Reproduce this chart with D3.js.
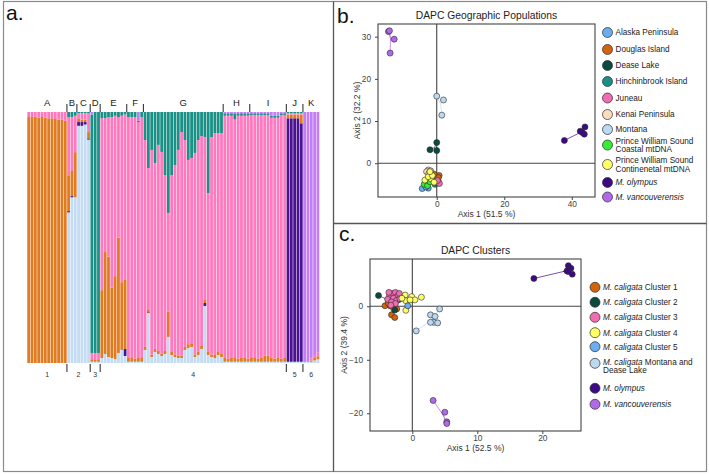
<!DOCTYPE html>
<html lang="en">
<head>
<meta charset="UTF-8">
<title>Ancestry and DAPC</title>
<script src="https://d3js.org/d3.v7.min.js"></script>
<style>
  body { margin: 0; background: #fff; }
  svg { font-family: "Liberation Sans", Arial, sans-serif; }
</style>
</head>
<body>
<svg id="fig" width="709" height="474"></svg>
<script>
// ---------- panel a: ancestry bar plot ----------
const groups = ["A", "B", "C", "D", "E", "F", "G", "H", "I", "J", "K"];
const groupSizes = [12, 3, 4, 3, 8, 5, 24, 8, 11, 5, 5];
const clusterLabels = ["1", "2", "3", "4", "5", "6"];
const clusterSizes = [12, 7, 3, 56, 5, 5];

// ancestry (%) of each individual, plot order A..K
const qLightBlue = [
  0,0,0,0,0,0,0,0,0,0,0,0,
  60,66,66,
  94.5,94.5,95,89,
  0.5,0.5,0.5,
  2,3.6,2.4,2,1.6,4,5.2,2.8,
  0.5,0.5,0.5,0.5,0.5,
  5.2,19.9,2.4,4.4,3.6,2.8,3.6,10.4,3.2,2.4,2,2,5.2,6,6.4,2.4,3.2,5.6,22.7,3.2,2.4,2,3.2,2.4,
  0.5,0.5,0.5,0.5,0.5,0.5,0.5,0.5,
  0.5,0.5,0.5,0.5,0.5,0.5,0.5,0.5,0.5,0.5,0.5,
  0.5,0.5,0.5,0.5,0.5,
  0.4,0.4,0.5,1,1.5
];
const qDarkPurple = [
  0,0,0,0,0,0,0,0,0,0,0,0,
  0.5,0.5,0,
  1.5,1.5,1,0.5,
  0,0,0,
  0,0,0,0,0,0,0,2.8,
  0,0,0,0,0,
  0,0.3,0,0,0,0,0,0,0,0,0,0,0,0,0,0,0,0,1.2,0,0,0,0,0,
  0,0,0,0,0,0,0,0,
  0,0,0,0,0,0,0,0,0,0,0,
  97,97,97,97,95,
  0,0,0,0,0
];
const qOrange = [
  98,98,98.2,97.8,98,97.8,97.5,97.5,97.2,97,97,96.5,
  14,10,18,
  1.5,1,1,2.5,
  1,1,1,
  27,40.6,40,28,33,46,27,27.5,
  1.5,1.5,1.2,1.5,1.8,
  1.2,1.2,1,1.2,1.2,1,1.2,10,1.2,1,1,1,1.2,1.5,1.5,1,1.2,1.2,1.5,1.2,1,1.2,1.2,1.2,
  1.5,1.2,1.5,1.8,1.2,1.5,1.5,1.2,
  1.5,1.8,1.2,1.5,2.5,2.5,1.5,1.2,1.5,1.2,1.5,
  1.5,1.5,1.5,1.5,3.5,
  0,0,0.5,1,1.2
];
const qPink = [
  2,2,1.8,2.2,2,2.2,2.5,2.5,2.8,3,3,3.5,
  23.5,21.5,14.5,
  2,2.5,2.5,7.5,
  2.5,2.5,2.5,
  68.5,53.3,55.6,68,63.9,48,66.3,65.9,
  96,96,96.3,94,95.7,
  82.4,56.3,81.5,74.1,82.1,80.3,70.1,39.4,70.5,75.5,81.9,89,82.4,73.4,73.8,80.3,84.4,83.6,64.6,63.3,86.6,88.4,87.2,88,
  96.5,96.8,96.5,94.7,96.8,96.5,96.5,96.8,
  96.7,96.4,97,96.7,95.7,95.7,95.7,96,95.7,97,96.7,
  0.5,0.5,0.5,0.5,0.5,
  0.4,0.4,0.8,1.2,1.6
];
const qTeal = [
  0,0,0,0,0,0,0,0,0,0,0,0,
  2,2,1.5,
  0.5,0.5,0.5,0.5,
  95,96,96,
  2.5,2.5,2,2,1.5,2,1.5,1,
  2,2,2,0.5,2,
  11.2,22.3,15.1,20.3,13.1,15.9,25.1,40.2,25.1,21.1,15.1,8,11.2,19.1,18.3,16.3,11.2,9.6,10,32.3,10,8.4,8.4,8.4,
  1,1,1,2.5,1,1,1,1,
  0.8,0.8,0.8,0.8,0.8,0.8,0.8,0.8,0.8,0.8,0.8,
  0.5,0.5,0.5,0.5,0.5,
  0,0,0,0,0
];
const qLightPurple = [
  0,0,0,0,0,0,0,0,0,0,0,0,
  0,0,0,
  0,0,0,0,
  1,0,0,
  0,0,0,0,0,0,0,0,
  0,0,0,3.5,0,
  0,0,0,0,0,0,0,0,0,0,0,0,0,0,0,0,0,0,0,0,0,0,0,0,
  0.5,0.5,0.5,0.5,0.5,0.5,0.5,0.5,
  0.5,0.5,0.5,0.5,0.5,0.5,1.5,1.5,1.5,0.5,0.5,
  0,0,0,0,0,
  99.2,99.2,98.2,96.8,95.7
];

// ---------- panel b: DAPC geographic populations ----------
const alaskaPeninsula = [[-4.3, -6.0], [-2.5, -5.9], [-3.2, -5.6]];
const douglasIsland = [[0.7, -2.9], [0.5, -3.4], [-0.8, -2.6]];
const deaseLake = [[0, 4.9], [-2, 3.2], [0, 3.0]];
const hinchinbrookIsland = [[-0.5, -5.0], [-1.2, -4.2], [0.2, -4.6]];
const juneau = [[0.5, -4.4], [0.8, -4.8], [0.2, -4.1]];
const kenaiPeninsula = [[-2.5, -1.6], [-3.0, -2.0], [-1.8, -1.8]];
const montana = [[0, 15.9], [2.0, 15.0], [1.5, 11.4]];
const pwsCoastal = [[-3.7, -5.0], [-2.7, -5.3], [-2.0, -4.4]];
const pwsContinental = [[-2.3, -2.4], [-1.7, -3.7], [-0.8, -4.5], [-3.5, -4.0], [-2.5, -3.2], [-1.3, -2.9], [-2.0, -2.0]];
const olympusB = [[37.8, 5.4], [42.5, 7.6], [43.1, 7.3], [43.9, 8.6], [43.7, 6.9]];
const vancouverensisB = [[-14.3, 31.2], [-14.0, 31.4], [-12.6, 29.4], [-13.8, 26.1]];

// ---------- panel c: DAPC clusters ----------
const cluster1 = [[-4.2, 0.1], [-3.4, 0.1], [-3.7, 0.6], [-3.2, -1.6], [-2.7, -2.1], [-2.4, -0.5]];
const cluster2 = [[-5.2, 2.0], [-2.15, 1.2], [-2.7, -0.7], [-3.4, 1.6]];
const cluster3 = [[-3.5, 2.0], [-3.0, 2.4], [-2.6, 2.6], [-2.2, 2.0], [-3.8, 1.3], [-2.9, 1.5], [-2.4, 1.1],
                  [-3.2, 0.8], [-2.0, 2.4], [-3.6, 2.6], [-2.6, 0.5], [-1.9, 1.4], [-3.3, 0.2]];
const cluster4 = [[-1.1, 2.1], [-0.1, 1.8], [0.4, 1.2], [1.4, 1.7], [-1.0, -0.75], [-1.0, 1.05], [-1.6, 1.5], [-0.35, 1.2]];
const cluster5 = [[-0.7, 0.1]];
const montanaDease = [[0.6, -4.6], [2.8, -1.6], [3.5, -1.9], [3.3, -3.0], [2.8, -3.0], [4.2, -0.5], [3.9, -3.1]];
const olympusC = [[18.7, 5.2], [24.0, 7.6], [24.4, 7.1], [24.6, 6.0], [23.8, 6.6], [24.0, 6.5]];
const vancouverensisC = [[3.2, -17.6], [5.0, -19.8], [5.3, -21.6], [5.3, -21.9]];

const svg = d3.select("#fig");

// frame and dividers
svg.append("rect").attr("x", 3.5).attr("y", 1.5).attr("width", 703).attr("height", 470)
  .attr("fill", "none").attr("stroke", "#8a8a8a").attr("stroke-width", 1.2);
svg.append("line").attr("x1", 333.5).attr("x2", 333.5).attr("y1", 1.5).attr("y2", 471.5)
  .attr("stroke", "#555").attr("stroke-width", 1.3);
svg.append("line").attr("x1", 333.5).attr("x2", 706.5).attr("y1", 223.5).attr("y2", 223.5)
  .attr("stroke", "#555").attr("stroke-width", 1.3);

// panel letters
[["a.", 6, 20], ["b.", 337, 23], ["c.", 339, 241]].forEach(([t, x, y]) => {
  svg.append("text").attr("x", x).attr("y", y).attr("font-size", 21).attr("fill", "#111").text(t);
});

// ---------- draw panel a ----------
const keys = ["lb", "dp", "or", "pk", "tl", "lp"];
const ancestryColors = ["#c3dcf4", "#4a1190", "#e07b21", "#ff79bf", "#1b9086", "#c17ef5"];
const rows = qLightBlue.map((v, i) => ({
  lb: v, dp: qDarkPurple[i], or: qOrange[i], pk: qPink[i], tl: qTeal[i], lp: qLightPurple[i]
}));
const series = d3.stack().keys(keys).offset(d3.stackOffsetExpand)(rows);

const xA = d3.scaleBand().domain(d3.range(rows.length)).range([27.3, 319.3]).paddingInner(0.16);
const yA = d3.scaleLinear().domain([0, 1]).range([363, 112]);
const gap = xA.step() * xA.paddingInner() / 2;
const edge = i => i === 0 ? xA.range()[0] : (i === rows.length ? xA.range()[1] : xA(i) - gap);

const barG = svg.append("g");
series.forEach((s, k) => {
  barG.selectAll(null).data(s).enter().append("rect")
    .attr("x", (d, i) => xA(i))
    .attr("width", xA.bandwidth())
    .attr("y", d => yA(d[1]))
    .attr("height", d => yA(d[0]) - yA(d[1]))
    .attr("fill", ancestryColors[k]);
});

// top group ticks and letters
const groupStarts = [0, ...d3.cumsum(groupSizes)];
groups.forEach((g, i) => {
  const x0 = edge(groupStarts[i]), x1 = edge(groupStarts[i + 1]);
  if (i > 0) {
    svg.append("line").attr("x1", x0).attr("x2", x0).attr("y1", 104).attr("y2", 112)
      .attr("stroke", "#222").attr("stroke-width", 1);
  }
  svg.append("text").attr("x", (x0 + x1) / 2).attr("y", 105.5).attr("text-anchor", "middle")
    .attr("font-size", 9.5).attr("fill", "#222").text(g);
});

// bottom cluster ticks and numbers
const clusterStarts = [0, ...d3.cumsum(clusterSizes)];
clusterLabels.forEach((c, i) => {
  const x0 = edge(clusterStarts[i]), x1 = edge(clusterStarts[i + 1]);
  if (i > 0) {
    svg.append("line").attr("x1", x0).attr("x2", x0).attr("y1", 364).attr("y2", 372)
      .attr("stroke", "#222").attr("stroke-width", 1);
  }
  svg.append("text").attr("x", (x0 + x1) / 2).attr("y", 377).attr("text-anchor", "middle")
    .attr("font-size", 7).attr("fill", "#333").text(c);
});

// ---------- scatter helper ----------
function scatter(o) {
  const x = d3.scaleLinear().domain(o.xDomain).range([o.box[0], o.box[1]]);
  const y = d3.scaleLinear().domain(o.yDomain).range([o.box[3], o.box[2]]);
  const g = svg.append("g");

  g.append("text").attr("x", (o.box[0] + o.box[1]) / 2).attr("y", o.box[2] - 5)
    .attr("text-anchor", "middle").attr("font-size", 10.3).attr("fill", "#222").text(o.title);

  g.append("line").attr("x1", x(0)).attr("x2", x(0)).attr("y1", o.box[2]).attr("y2", o.box[3])
    .attr("stroke", "#444").attr("stroke-width", 1.1);
  g.append("line").attr("x1", o.box[0]).attr("x2", o.box[1]).attr("y1", y(0)).attr("y2", y(0))
    .attr("stroke", "#444").attr("stroke-width", 1.1);

  const ax = g.append("g").attr("transform", `translate(0,${o.box[3]})`)
    .call(d3.axisBottom(x).tickValues(o.xTicks).tickSize(3).tickPadding(1.5).tickFormat(d3.format("d")));
  const ay = g.append("g").attr("transform", `translate(${o.box[0]},0)`)
    .call(d3.axisLeft(y).tickValues(o.yTicks).tickSize(3).tickPadding(4).tickFormat(d => d < 0 ? "\u2212" + Math.abs(d) : d));
  [ax, ay].forEach(a => {
    a.select(".domain").remove();
    a.selectAll(".tick line").attr("stroke", "#444");
    a.selectAll(".tick text").attr("font-size", 8.3).attr("fill", "#444")
      .attr("font-family", "Liberation Sans, Arial, sans-serif");
  });

  g.append("text").attr("x", (o.box[0] + o.box[1]) / 2).attr("y", o.box[3] + 19.5)
    .attr("text-anchor", "middle").attr("font-size", 8.5).attr("fill", "#333").text(o.xLabel);
  g.append("text").attr("transform", `translate(${o.yLabelX},${(o.box[2] + o.box[3]) / 2}) rotate(-90)`)
    .attr("text-anchor", "middle").attr("font-size", 8.5).attr("fill", "#333").text(o.yLabel);

  o.pops.forEach(p => {
    const cx = d3.mean(p.pts, d => d[0]), cy = d3.mean(p.pts, d => d[1]);
    g.selectAll(null).data(p.pts).enter().append("line")
      .attr("x1", x(cx)).attr("y1", y(cy)).attr("x2", d => x(d[0])).attr("y2", d => y(d[1]))
      .attr("stroke", p.color).attr("stroke-width", 1).attr("stroke-opacity", 0.7);
  });
  o.pops.forEach(p => {
    g.selectAll(null).data(p.pts).enter().append("circle")
      .attr("cx", d => x(d[0])).attr("cy", d => y(d[1])).attr("r", 3)
      .attr("fill", p.color).attr("stroke", "#2a2a2a").attr("stroke-width", 0.6);
  });

  g.append("rect").attr("x", o.box[0]).attr("y", o.box[2])
    .attr("width", o.box[1] - o.box[0]).attr("height", o.box[3] - o.box[2])
    .attr("fill", "none").attr("stroke", "#444").attr("stroke-width", 1.1);

  // legend
  o.pops.forEach((p, i) => {
    const ly = o.legendY[i];
    g.append("circle").attr("cx", o.legendX).attr("cy", ly).attr("r", 5)
      .attr("fill", p.color).attr("stroke", "#2a2a2a").attr("stroke-width", 0.7);
    const t = g.append("text").attr("x", o.legendX + 8).attr("y", ly).attr("font-size", 8.2).attr("fill", "#222");
    const lines = p.label;
    const off = lines.length > 1 ? o.twoLineOffset : [0];
    lines.forEach((ln, j) => {
      const ts = t.append("tspan").attr("x", o.legendX + 8).attr("y", ly + off[j]).attr("dy", "0.35em");
      ln.forEach(([txt, it]) => {
        ts.append("tspan").attr("font-style", it ? "italic" : "normal").text(txt);
      });
    });
  });
}

scatter({
  title: "DAPC Geographic Populations",
  box: [378, 595, 24, 197],
  xDomain: [-17.39, 46.87], yDomain: [-8, 33],
  xTicks: [0, 20, 40], yTicks: [0, 10, 20, 30],
  xLabel: "Axis 1 (51.5 %)", yLabel: "Axis 2 (32.2 %)", yLabelX: 360,
  legendX: 607.5,
  legendY: [32.5, 49.5, 65.5, 81.5, 98, 114.5, 129.5, 145, 164.5, 182.5, 197],
  twoLineOffset: [-4, 4.5],
  pops: [
    { pts: alaskaPeninsula, color: "#6aaeee", label: [[["Alaska Peninsula", false]]] },
    { pts: douglasIsland, color: "#d2640c", label: [[["Douglas Island", false]]] },
    { pts: deaseLake, color: "#0b4a40", label: [[["Dease Lake", false]]] },
    { pts: hinchinbrookIsland, color: "#1a8f88", label: [[["Hinchinbrook Island", false]]] },
    { pts: juneau, color: "#f26cb3", label: [[["Juneau", false]]] },
    { pts: kenaiPeninsula, color: "#fbdcbc", label: [[["Kenai Peninsula", false]]] },
    { pts: montana, color: "#bcd9f2", label: [[["Montana", false]]] },
    { pts: pwsCoastal, color: "#33ee33", label: [[["Prince William Sound", false]], [["Coastal mtDNA", false]]] },
    { pts: pwsContinental, color: "#ffff66", label: [[["Prince William Sound", false]], [["Continenetal mtDNA", false]]] },
    { pts: olympusB, color: "#3d0a85", label: [[["M. olympus", true]]] },
    { pts: vancouverensisB, color: "#b06ae8", label: [[["M. vancouverensis", true]]] }
  ]
});

scatter({
  title: "DAPC Clusters",
  box: [370, 581, 259, 431],
  xDomain: [-6.51, 25.95], yDomain: [-23.31, 8.84],
  xTicks: [0, 10, 20], yTicks: [-20, -10, 0],
  xLabel: "Axis 1 (52.5 %)", yLabel: "Axis 2 (39.4 %)", yLabelX: 347,
  legendX: 595,
  legendY: [287.3, 302.3, 317.3, 332.7, 346.7, 363.3, 388.3, 404.3],
  twoLineOffset: [-1.5, 7],
  pops: [
    { pts: cluster1, color: "#d2640c", label: [[["M. caligata", true], [" Cluster 1", false]]] },
    { pts: cluster2, color: "#0b4a40", label: [[["M. caligata", true], [" Cluster 2", false]]] },
    { pts: cluster3, color: "#f26cb3", label: [[["M. caligata", true], [" Cluster 3", false]]] },
    { pts: cluster4, color: "#ffff66", label: [[["M. caligata", true], [" Cluster 4", false]]] },
    { pts: cluster5, color: "#6aaeee", label: [[["M. caligata", true], [" Cluster 5", false]]] },
    { pts: montanaDease, color: "#bcd9f2", label: [[["M. caligata", true], [" Montana and", false]], [["Dease Lake", false]]] },
    { pts: olympusC, color: "#3d0a85", label: [[["M. olympus", true]]] },
    { pts: vancouverensisC, color: "#b06ae8", label: [[["M. vancouverensis", true]]] }
  ]
});
</script>
</body>
</html>
